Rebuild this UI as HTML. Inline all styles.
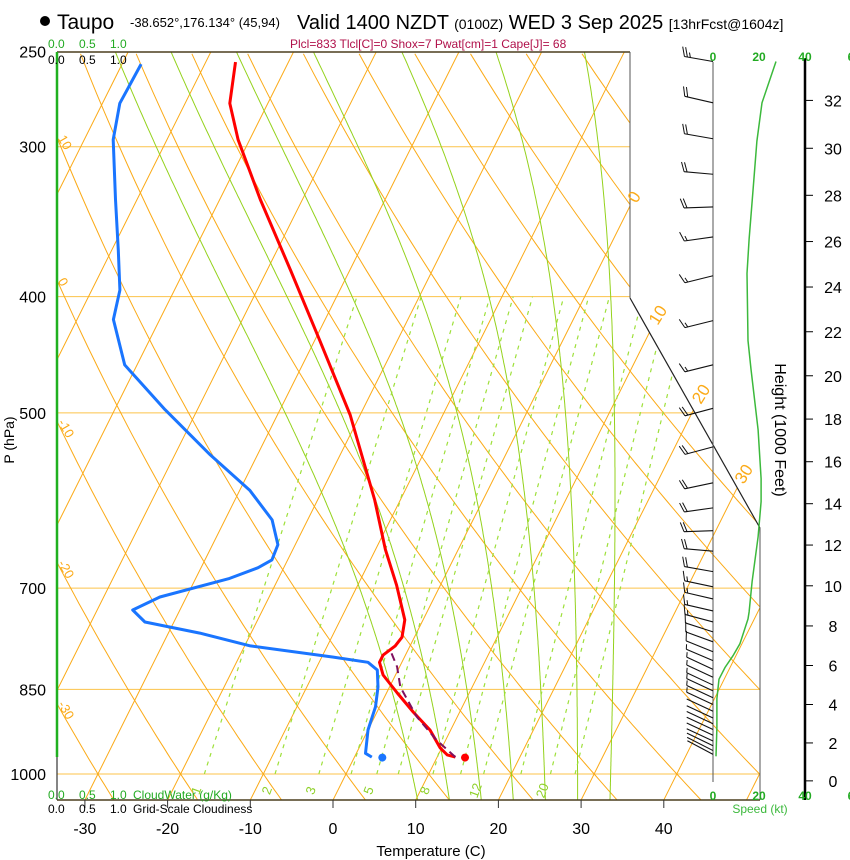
<!DOCTYPE html>
<html><head><meta charset="utf-8">
<style>
html,body{margin:0;padding:0;background:#fff;}
svg{display:block;font-family:"Liberation Sans",Arial,sans-serif;}
</style></head>
<body>
<svg id="chart" width="850" height="860" viewBox="0 0 850 860" xmlns="http://www.w3.org/2000/svg">
<defs><clipPath id="plotclip"><polygon points="57,52 630,52 630,298 760,528 760,800 57,800"/></clipPath></defs>
<g id="title">
<circle cx="45" cy="21" r="5" fill="#000"/>
<text x="57" y="29" font-size="21">Taupo</text>
<text x="130" y="27" font-size="13">-38.652°,176.134° (45,94)</text>
<text x="297" y="29" font-size="20">Valid 1400 NZDT <tspan font-size="14">(0100Z)</tspan> WED 3 Sep 2025 <tspan font-size="14">[13hrFcst@1604z]</tspan></text>
<text x="290" y="48" font-size="12" fill="#b0104a">Plcl=833 Tlcl[C]=0 Shox=7 Pwat[cm]=1 Cape[J]= 68</text>
</g>
<g id="bg" clip-path="url(#plotclip)"></g>
<g id="frame"></g>
<g id="profiles"></g>
<g id="wind"></g>
<g id="axes"></g>
</svg>
<script>
// ---- data ----
const tempP = [255,276,296,332,380,435,502,591,650,696,744,769,782,796,807,827,856,888,919,951,964,968];
const tempT = [-56.4,-54.6,-51.4,-45.1,-37.2,-29.4,-21.2,-13.1,-8.8,-5.3,-2.2,-1.5,-1.8,-2.7,-2.7,-1.5,1.3,4.4,7.5,9.8,11.1,12.2];
const dewP = [256,276,296,332,366,395,418,456,497,542,580,614,644,663,673,687,712,730,747,763,782,799,807,819,846,879,919,961,968];
const dewT = [-67.7,-67.9,-66.5,-62.6,-59.2,-56.6,-55.6,-51.5,-43.9,-35.7,-28.8,-24.3,-22.1,-21.9,-23.1,-25.9,-33.2,-35.7,-33.5,-26.2,-19.3,-8.6,-4.1,-2.5,-1.4,-0.5,0,1.1,2.1];
const parcelP = [968,937,896,846,814,793];
const parcelT = [12.2,8.9,5.1,1.3,-0.3,-1.8];
const sfcP = 969, sfcT = 13.4, sfcTd = 3.4;
const spdH = [33.6,31.9,30.3,28.2,26.1,24.6,21.6,20.3,17.5,15.2,14.1,12.4,10.2,8.7,8.35,7.1,6.5,5.9,5.3,4.3,2.8,1.3];
const spdV = [27.4,21.3,19.1,17.4,15.7,14.8,15.2,16.5,19.6,20.9,20.9,19.6,17.0,15.7,15.2,11.7,8.7,5.2,2.6,1.7,1.7,1.3];
const barbH = [33.6,31.9,30.4,28.9,27.5,26.2,24.5,22.5,20.5,18.5,16.7,15.0,13.8,12.7,11.7,10.7,9.95,9.35,8.75,8.2,7.7,7.2,6.7,6.25,5.8,5.4,5.0,4.7,4.35,4.0,3.65,3.3,3.0,2.7,2.4,2.1,1.85,1.6,1.4];
const barbSpd = [25,20,20,20,20,15,15,15,15,20,20,20,20,20,20,20,17,15,15,15,12,10,8,5,5,5,5,5,5,5,2,2,2,2,2,2,2,2,2];
const barbDir = [280,283,280,275,268,262,256,256,256,255,255,258,262,268,275,280,282,283,283,285,288,290,292,293,295,295,295,295,295,295,295,295,295,295,295,295,296,297,298];
const pLevels = [250,300,400,500,700,850,1000];
const tTicks = [-30,-20,-10,0,10,20,30,40];
const hTicks = [0,2,4,6,8,10,12,14,16,18,20,22,24,26,28,30,32];
const mixRatios = [1,2,3,4,5,6,8,10,12,16,20,24];
const mixLabels = [1,2,3,5,8,12,20];
const moistThetaW = [8,12,16,20,24,28,32];
const thetaLabels = [10,0,-10,-20,-30];
const isoLabels = [0,10,20,30];
const spdTicks = [0,20,40,60];

// ---- axis functions ----
const NS='http://www.w3.org/2000/svg';
function yOf(p){return 774-521*Math.log(1000/p);}
function xOf(T,p){return 333+8.27*T+0.5*(800-yOf(p));}
function xTick(T){return 333+8.27*T;}
function pOfH(kft){const m=kft*304.8;return 1013.25*Math.pow(1-2.2558e-5*m,5.2559);}
function yOfH(kft){return yOf(pOfH(kft));}
function xSpd(s){return 713+2.3*s;}
function mk(tag,attrs,parent){const e=document.createElementNS(NS,tag);for(const k in attrs)e.setAttribute(k,attrs[k]);parent.appendChild(e);return e;}
function pts(a){return a.map(q=>q[0].toFixed(1)+','+q[1].toFixed(1)).join(' ');}
const bg=document.getElementById('bg'),frame=document.getElementById('frame'),prof=document.getElementById('profiles'),wind=document.getElementById('wind'),axes=document.getElementById('axes');
const P_BOT=1051,P_TOP=245;

// isobars
pLevels.slice(1).forEach(p=>{
  const l=mk('line',{x1:57,x2:760,y1:yOf(p),y2:yOf(p),stroke:'#fcc34a','stroke-width':1},bg);
  
  
});
// isotherms
for(let T=-120;T<=50;T+=10){
  const l=mk('line',{x1:xOf(T,P_BOT),y1:yOf(P_BOT),x2:xOf(T,P_TOP),y2:yOf(P_TOP),stroke:'#fbaa17','stroke-width':1},bg);
  
  
}
// dry adiabats
for(let th=-40;th<=200;th+=10){
  const a=[];for(let p=P_BOT;p>=P_TOP;p-=10){const T=(th+273.15)*Math.pow(p/1000,0.2857)-273.15;a.push([xOf(T,p),yOf(p)]);}
  const l=mk('polyline',{points:pts(a),fill:'none',stroke:'#fbaa17','stroke-width':1},bg);
  
  
}
// moist adiabats
function dTdp(T,p){const Rd=287,cp=1004,Lv=2.5e6;const es=6.112*Math.exp(17.67*(T-273.15)/(T-29.65));const rs=0.622*es/(p-es);return ((Rd*T+Lv*rs)/p)/(cp+Lv*Lv*rs*0.622/(Rd*T*T));}
moistThetaW.forEach(tw=>{
  let T=tw+273.15,p=1000;const down=[];
  while(p<P_BOT){T+=dTdp(T,p)*2;p+=2;down.push([xOf(T-273.15,p),yOf(p)]);}
  T=tw+273.15;p=1000;const up=[[xOf(tw,1000),yOf(1000)]];
  while(p>P_TOP){T-=dTdp(T,p)*2;p-=2;up.push([xOf(T-273.15,p),yOf(p)]);}
  const a=down.reverse().concat(up);
  const l=mk('polyline',{points:pts(a),fill:'none',stroke:'#94d21c','stroke-width':1},bg);
  
  
});
// mixing ratio lines
function tdOf(w,p){const e=w*p/(622+w);const g=Math.log(e/6.112);return 243.5*g/(17.67-g);}
mixRatios.forEach(w=>{
  const l=mk('line',{x1:xOf(tdOf(w,1000),1000),y1:yOf(1000),x2:xOf(tdOf(w,400),400),y2:yOf(400),stroke:'#9ee03a','stroke-width':1.2,'stroke-dasharray':'4,5'},bg);
  
  
});
mixLabels.forEach(w=>{
  const x=xOf(tdOf(w,1000),1000)-4;
  const t=mk('text',{x:x,y:792,'font-size':13,fill:'#8fd12a',transform:'rotate(-70 '+x+' 792)','text-anchor':'middle'},axes);
  t.textContent=w;
  
  
});
// theta labels
thetaLabels.forEach(th=>{
  let py=0;for(let p=250;p<=1051;p+=1){const T=(th+273.15)*Math.pow(p/1000,0.2857)-273.15;if(xOf(T,p)>=57){py=yOf(p);break;}}
  const t=mk('text',{x:60,y:py+4,'font-size':13,fill:'#fbaa17',transform:'rotate(60 62 '+py+')'},axes);
  t.textContent=th;
  
  
});
// isotherm labels
const isoY=[200,318,397,477];
isoLabels.forEach((T,i)=>{
  const y=isoY[i]; const p=1000*Math.exp(-(774-y)/521); const x=xOf(T,p)+6;
  const t=mk('text',{x:x,y:y,'font-size':17,fill:'#fbaa17',transform:'rotate(-58 '+x+' '+y+')','text-anchor':'middle'},axes);
  t.textContent=T;
  
  
});

// frame
[[57,52,630,52,'#4b3f1e',1.5],[630,52,630,298,'#555',1],[630,298,760,528,'#222',1.2],[760,528,760,800,'#555',1],[57,800,760,800,'#4b3f1e',1.5],[57,757,57,800,'#333',1.2]].forEach(s=>{
  const l=mk('line',{x1:s[0],y1:s[1],x2:s[2],y2:s[3],stroke:s[4],'stroke-width':s[5]},frame);
  
  
});
const gl=mk('line',{x1:57,y1:52,x2:57,y2:757,stroke:'#1fb01f','stroke-width':2.5},frame);



// profiles
const tl=mk('polyline',{points:pts(tempP.map((p,i)=>[xOf(tempT[i],p),yOf(p)])),fill:'none',stroke:'#ff0000','stroke-width':3,'stroke-linejoin':'round'},prof);


const dl=mk('polyline',{points:pts(dewP.map((p,i)=>[xOf(dewT[i],p),yOf(p)])),fill:'none',stroke:'#1a75ff','stroke-width':3,'stroke-linejoin':'round'},prof);


const pl=mk('polyline',{points:pts(parcelP.map((p,i)=>[xOf(parcelT[i],p),yOf(p)])),fill:'none',stroke:'#80105f','stroke-width':2,'stroke-dasharray':'8,5'},prof);


const sd1=mk('circle',{cx:xOf(sfcT,sfcP),cy:yOf(sfcP),r:4,fill:'#ff0000'},prof);


const sd2=mk('circle',{cx:xOf(sfcTd,sfcP),cy:yOf(sfcP),r:4,fill:'#1a75ff'},prof);



// wind panel
const staff=mk('line',{x1:713,y1:62,x2:713,y2:782,stroke:'#555','stroke-width':1},wind);


barbH.forEach((h,i)=>{
  const y=yOfH(h),a=barbDir[i]*Math.PI/180;
  const ux=Math.sin(a),uy=-Math.cos(a);
  const tx=713+29*ux,ty=y+29*uy;
  const g=mk('g',{},wind);
  
  
  mk('line',{x1:713,y1:y,x2:tx,y2:ty,stroke:'#111','stroke-width':1.1},g);
  let s=barbSpd[i],pos=0;
  const r=70*Math.PI/180,fx=ux*Math.cos(r)-uy*Math.sin(r),fy=ux*Math.sin(r)+uy*Math.cos(r);
  while(s>=7.5){const bx=tx-pos*ux,by=ty-pos*uy;mk('line',{x1:bx,y1:by,x2:bx+10*fx,y2:by+10*fy,stroke:'#111','stroke-width':1},g);s-=10;pos+=3;}
  if(s>=2.5){const bx=tx-pos*ux,by=ty-pos*uy;mk('line',{x1:bx,y1:by,x2:bx+5*fx,y2:by+5*fy,stroke:'#111','stroke-width':1},g);}
});
const sl=mk('polyline',{points:pts(spdH.map((h,i)=>[xSpd(spdV[i]),yOfH(h)])),fill:'none',stroke:'#3cb93c','stroke-width':1.5},wind);


const ha=mk('line',{x1:805,y1:58,x2:805,y2:800,stroke:'#000','stroke-width':2.5},wind);


hTicks.forEach(h=>{
  const y=yOfH(h);
  const l=mk('line',{x1:805,x2:813,y1:y,y2:y,stroke:'#000','stroke-width':1},wind);
  
  
  const t=mk('text',{x:833,y:y+6,'font-size':16,'text-anchor':'middle'},wind);
  t.textContent=h;
  
  
});
[61,800].forEach(yy=>{spdTicks.forEach(s=>{
  const t=mk('text',{x:xSpd(s),y:yy,'font-size':12,'font-weight':'bold',fill:'#22aa22','text-anchor':'middle'},wind);
  t.textContent=s===60?'6':s;
  
  
});});
const spt=mk('text',{x:760,y:813,'font-size':12,fill:'#3cb93c','text-anchor':'middle'},wind);
spt.textContent='Speed (kt)';


const ht=mk('text',{x:775,y:430,'font-size':16,'text-anchor':'middle',transform:'rotate(90 775 430)'},wind);
ht.textContent='Height (1000 Feet)';



// axes labels
pLevels.forEach(p=>{
  const t=mk('text',{x:46,y:yOf(p)+6,'font-size':16,'text-anchor':'end'},axes);
  t.textContent=p;
  
  
});
tTicks.forEach(T=>{
  const x=xTick(T);
  const l=mk('line',{x1:x,x2:x,y1:800,y2:808,stroke:'#333','stroke-width':1},axes);
  
  
  const t=mk('text',{x:x,y:834,'font-size':16,'text-anchor':'middle'},axes);
  t.textContent=T;
  
  
});
const xt=mk('text',{x:431,y:856,'font-size':15,'text-anchor':'middle'},axes);
xt.textContent='Temperature (C)';


const yt=mk('text',{x:14,y:440,'font-size':14,'text-anchor':'middle',transform:'rotate(-90 14 440)'},axes);
yt.textContent='P (hPa)';


[[48,48,'#22aa22','CloudWater-top',''],[48,64,'#000','cloudiness-top',''],[48,799,'#22aa22','b','CloudWater (g/Kg)'],[48,813,'#000','b','Grid-Scale Cloudiness']].forEach((r,i)=>{
  const t=mk('text',{x:r[0],y:r[1],'font-size':12,fill:r[2]},axes);
  ['0.0','0.5','1.0'].forEach((v,j)=>{const s=mk('tspan',{x:r[0]+j*31},t);s.textContent=v;});
  if(r[4]){const s=mk('tspan',{x:r[0]+85},t);s.textContent=r[4];}
  
  
});
</script>
</body></html>
